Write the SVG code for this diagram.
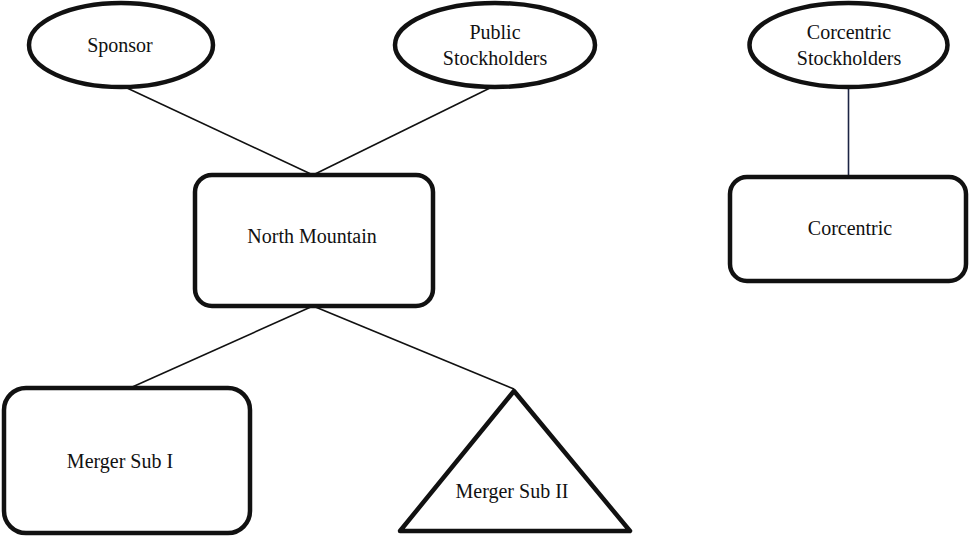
<svg xmlns="http://www.w3.org/2000/svg" width="970" height="538" viewBox="0 0 970 538">
<style>
.shape{fill:#fff;stroke:#111;stroke-width:4.5;stroke-linejoin:round}
.conn{stroke:#111;stroke-width:1.6;fill:none}
.lbl{font-family:'Liberation Serif','Times New Roman','DejaVu Serif',serif;font-size:20px;fill:#111;text-anchor:middle}
</style>
<rect width="970" height="538" fill="#fff"/>
<g id="connectors">
<line class="conn" x1="127" y1="88" x2="313" y2="175"/>
<line class="conn" x1="490" y1="88" x2="313" y2="175"/>
<line class="conn" x1="313" y1="306" x2="130" y2="388"/>
<line class="conn" x1="313" y1="306" x2="514" y2="389"/>
<line x1="848.5" y1="88" x2="848.5" y2="177" stroke="#1c2444" stroke-width="1.6"/>
</g>
<g id="sponsor">
<ellipse class="shape" cx="121" cy="45" rx="92" ry="42"/>
<text class="lbl" x="120" y="52" font-family="Liberation Serif, DejaVu Serif, serif">Sponsor</text>
</g>
<g id="public-stockholders">
<ellipse class="shape" cx="495" cy="45" rx="100" ry="42"/>
<text class="lbl" x="495" y="39" font-family="Liberation Serif, DejaVu Serif, serif">Public</text>
<text class="lbl" x="495" y="65" font-family="Liberation Serif, DejaVu Serif, serif">Stockholders</text>
</g>
<g id="corcentric-stockholders">
<ellipse class="shape" cx="848.5" cy="45" rx="99" ry="42"/>
<text class="lbl" x="849" y="39" font-family="Liberation Serif, DejaVu Serif, serif">Corcentric</text>
<text class="lbl" x="849" y="65" font-family="Liberation Serif, DejaVu Serif, serif">Stockholders</text>
</g>
<g id="north-mountain">
<rect class="shape" x="195" y="175" width="238" height="131" rx="17"/>
<text class="lbl" x="312" y="243" font-family="Liberation Serif, DejaVu Serif, serif">North Mountain</text>
</g>
<g id="corcentric">
<rect class="shape" x="730" y="177" width="236" height="104" rx="17"/>
<text class="lbl" x="850" y="235" font-family="Liberation Serif, DejaVu Serif, serif">Corcentric</text>
</g>
<g id="merger-sub-i">
<rect class="shape" x="4" y="388" width="246" height="145" rx="22"/>
<text class="lbl" x="120" y="468" font-family="Liberation Serif, DejaVu Serif, serif">Merger Sub I</text>
</g>
<g id="merger-sub-ii">
<polygon class="shape" points="514,391 630,531 400,531"/>
<text class="lbl" x="512" y="498" font-family="Liberation Serif, DejaVu Serif, serif">Merger Sub II</text>
</g>
</svg>
